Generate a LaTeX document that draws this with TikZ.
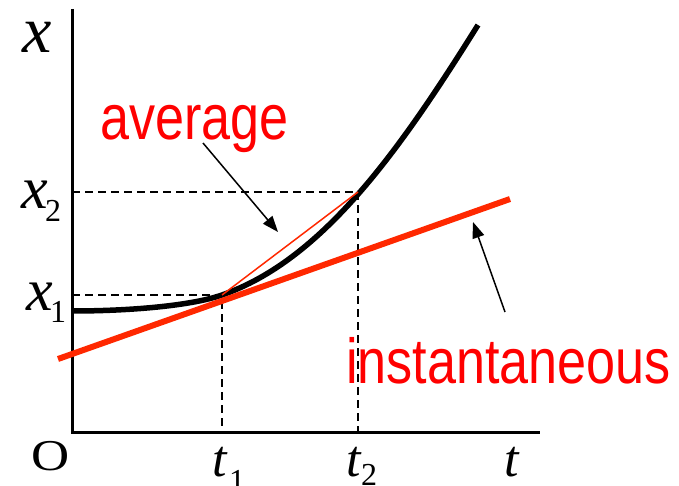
\documentclass[tikz,border=0pt]{standalone}
\usepackage{fontspec}
\setmainfont{Liberation Serif}
\newfontfamily\serifit{Liberation Serif Italic}
\newfontfamily\oface[FakeStretch=1.2]{Liberation Serif}
\newfontfamily\labsans[FakeStretch=0.82]{Liberation Sans}
\usetikzlibrary{arrows.meta}
\definecolor{tanred}{RGB}{255,40,0}
\begin{document}
\begin{tikzpicture}[x=1pt,y=-1pt,
  axis/.style={line width=3pt, line join=miter},
  guide/.style={line width=2pt, dash pattern=on 8pt off 5pt},
  curve/.style={line width=5.5pt},
  tangent/.style={line width=6pt, color=tanred},
  chord/.style={line width=1.5pt, color=tanred},
  pointer/.style={line width=1.5pt, -{Triangle[length=16pt,width=12pt]}},
  mathlab/.style={anchor=base west, inner sep=0pt, font=\fontsize{60}{60}\serifit},
  tlab/.style={anchor=base west, inner sep=0pt, font=\fontsize{52}{52}\serifit},
  biglab/.style={anchor=base west, inner sep=0pt, font=\fontsize{66}{66}\serifit},
  sublab/.style={anchor=base west, inner sep=0pt, font=\fontsize{32}{32}\selectfont},
  origin/.style={anchor=base west, inner sep=0pt, font=\fontsize{44}{44}\oface},
  word/.style={anchor=base west, inner sep=0pt, text=red, font=\fontsize{63.6}{64}\labsans}]
\useasboundingbox (0,0) rectangle (679,486);
% axes
\coordinate (O) at (72,432);
\coordinate (ytop) at (72,9);
\coordinate (xend) at (540,432);
\draw[axis] (ytop) -- (O) -- (xend);
% key points
\coordinate (P1) at (222,295);
\coordinate (P2) at (358,192);
\coordinate (x1) at (72,295);
\coordinate (t1) at (222,432);
\coordinate (x2) at (72,192);
\coordinate (t2) at (358,432);
\draw[guide] (x1) -- (P1) -- (t1);
\draw[guide] (x2) -- (P2) -- (t2);
% curve
\coordinate (cs) at (72,311);
\coordinate (ce) at (478,25);
\draw[curve] (cs) .. controls (132,311) and (192,305.5) .. (P1)
  .. controls (322,260) and (398,153) .. (ce);
% tangent and chord
\coordinate (ta) at (58,359);
\coordinate (tb) at (510,199);
\draw[tangent] (ta) -- (tb);
\draw[chord] (P1) -- (P2);
% labels
\node[word] (avg) at (100,140) {average};
\node[word] (inst) at (346,383) {instantaneous};
\coordinate (avgtail) at (203,143);
\coordinate (avgtip) at (278,232);
\coordinate (insttail) at (505,312);
\coordinate (insttip) at (473,222);
\draw[pointer] (avgtail) -- (avgtip);
\draw[pointer] (insttail) -- (insttip);
% axis labels
\node[biglab] (xl) at (22,53) {x};
\node[mathlab] (x2l) at (21,208) {x};
\node[sublab] (x2s) at (45,222) {2};
\node[mathlab] (x1l) at (26,310) {x};
\node[sublab] (x1s) at (50,322) {1};
\node[origin] (ol) at (31,470) {O};
\node[tlab] (t1l) at (212,476) {t};
\node[sublab] (t1s) at (229,491) {1};
\node[tlab] (t2l) at (346,476) {t};
\node[sublab] (t2s) at (361,485) {2};
\node[tlab] (tl) at (504,476) {t};
\end{tikzpicture}
\end{document}
